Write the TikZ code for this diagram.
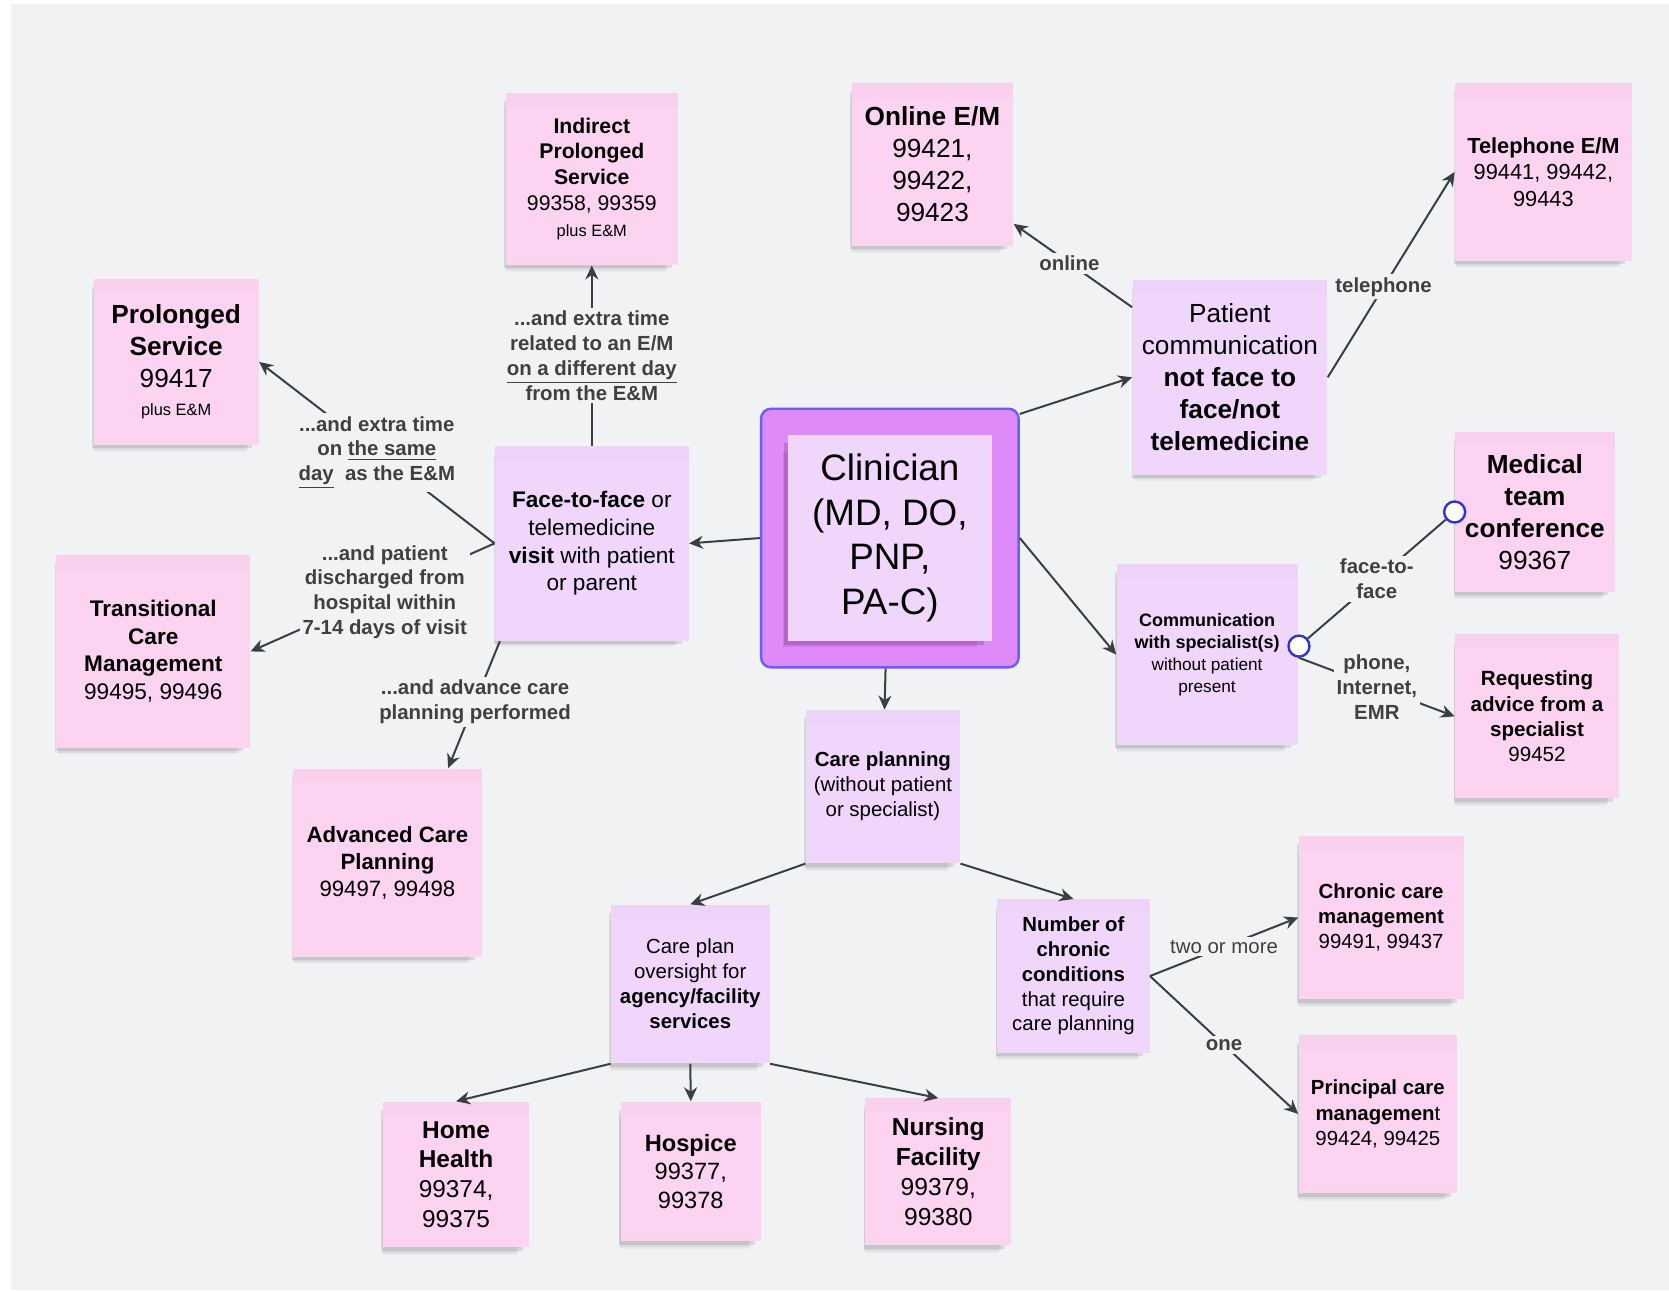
\documentclass[tikz,border=0pt]{standalone}
\usepackage{fontspec}
\setmainfont{Liberation Sans}
\usetikzlibrary{arrows.meta,calc,shadows}

\definecolor{canvas}{RGB}{241,242,244}
\definecolor{notepink}{RGB}{252,212,242}
\definecolor{notelilac}{RGB}{241,214,252}
\definecolor{framepink}{RGB}{222,138,248}
\definecolor{frameblue}{RGB}{104,96,238}
\definecolor{linkgray}{RGB}{58,63,69}
\definecolor{taggray}{RGB}{64,64,64}
\definecolor{handleblue}{RGB}{50,50,210}

\newcommand{\fs}[2]{\fontsize{#1}{#2}\selectfont}

\tikzstyle{note}=[rectangle,inner sep=0pt,align=center,text=black]
\tikzstyle{softshadow}=[
  drop shadow={shadow xshift=-2pt,shadow yshift=-3pt,shadow scale=0.97,fill=black!70,opacity=0.14},
  drop shadow={shadow xshift=-3pt,shadow yshift=-5.5pt,shadow scale=0.94,fill=black!70,opacity=0.09},
  drop shadow={shadow xshift=-3.5pt,shadow yshift=-7.5pt,shadow scale=0.92,fill=black!70,opacity=0.06},
  path picture={\fill[black,opacity=0.012] (path picture bounding box.north west)
    rectangle ([yshift=-7pt]path picture bounding box.north east);}]
\tikzstyle{pinknote}=[note,fill=notepink,softshadow]
\tikzstyle{lilacnote}=[note,fill=notelilac,softshadow]
\tikzstyle{link}=[draw=linkgray,line width=1pt,-{Stealth[length=7pt,width=6.5pt]}]
\tikzstyle{plainlink}=[draw=linkgray,line width=1pt]
\tikzstyle{tag}=[fill=canvas,text=taggray,font=\bfseries\fs{10.2}{12.4},align=center,inner sep=1.5pt]
\tikzstyle{handle}=[circle,draw=handleblue,fill=white,line width=1.2pt,minimum size=10.5pt,inner sep=0pt]

\begin{document}
\begin{tikzpicture}[x=0.5322pt,y=-0.5322pt,
  notesize/.style 2 args={minimum width=#1*0.5322pt,minimum height=#2*0.5322pt}]
  \useasboundingbox (0,0) rectangle (1568,1212);
  \fill[canvas] (10.3,3.8) rectangle (1568,1212);

  \node[rectangle,rounded corners=5pt,fill=framepink,draw=frameblue,line width=1.2pt,
    notesize={242}{243}] (clinicianframe) at (836,505.5) {};
  \node[note,fill=notelilac,notesize={192}{193},font=\fs{18.4}{22.4},
    drop shadow={shadow xshift=-3pt,shadow yshift=-3pt,shadow scale=0.98,fill=violet!60!black,opacity=0.18},
    drop shadow={shadow xshift=-5pt,shadow yshift=-6pt,shadow scale=0.95,fill=violet!60!black,opacity=0.12}]
    (clinician) at (836,505.5) {Clinician\\(MD, DO,\\PNP,\\PA-C)};

  \node[pinknote,notesize={162}{162},font=\fs{10.6}{12.9}] (indirect) at (556,168)
    {\textbf{Indirect}\\\textbf{Prolonged}\\\textbf{Service}\\99358, 99359\\{\fs{8.2}{11}plus E\&M}};
  \node[pinknote,notesize={152}{153},font=\fs{13.1}{16}] (online) at (876,154.5)
    {\textbf{Online E/M}\\99421,\\99422,\\99423};
  \node[pinknote,notesize={166}{167},font=\fs{10.9}{13.3}] (telephone) at (1450,161.5)
    {\textbf{Telephone E/M}\\99441, 99442,\\99443};
  \node[pinknote,notesize={155}{156},font=\fs{13.1}{16}] (prolonged) at (165.5,340)
    {\textbf{Prolonged}\\\textbf{Service}\\99417\\[-2pt]{\fs{8.2}{11}plus E\&M}};
  \node[lilacnote,notesize={183}{183},font=\fs{13.1}{16}] (ptcomm) at (1155.5,354.5)
    {Patient\\communication\\\textbf{not face to}\\\textbf{face/not}\\\textbf{telemedicine}};
  \node[lilacnote,notesize={182}{183},font=\fs{11.3}{13.8}] (face) at (556,510.5)
    {\textbf{Face-to-face} or\\telemedicine\\\textbf{visit} with patient\\or parent};
  \node[pinknote,notesize={150}{150},font=\fs{13.1}{16}] (medteam) at (1442,481)
    {\textbf{Medical}\\\textbf{team}\\\textbf{conference}\\99367};
  \node[lilacnote,notesize={170}{170},font=\fs{9}{11}] (commspec) at (1134,615)
    {\textbf{Communication}\\\textbf{with specialist(s)}\\{\fs{8.6}{11}without patient}\\{\fs{8.6}{11}present}};
  \node[pinknote,notesize={182}{182},font=\fs{11.3}{13.8}] (transitional) at (144,612)
    {\textbf{Transitional}\\\textbf{Care}\\\textbf{Management}\\99495, 99496};
  \node[pinknote,notesize={154}{154},font=\fs{10.3}{12.6}] (requesting) at (1444,673)
    {\textbf{Requesting}\\\textbf{advice from a}\\\textbf{specialist}\\99452};
  \node[lilacnote,notesize={145}{144},font=\fs{10.2}{12.5}] (careplanning) at (829.5,739)
    {\textbf{Care planning}\\(without patient\\or specialist)};
  \node[pinknote,notesize={178}{177},font=\fs{11.1}{13.6}] (acp) at (364,810.5)
    {\textbf{Advanced Care}\\\textbf{Planning}\\99497, 99498};
  \node[pinknote,notesize={155}{154},font=\fs{10.2}{12.5}] (chronic) at (1297.5,862)
    {\textbf{Chronic care}\\\textbf{management}\\99491, 99437};
  \node[lilacnote,notesize={149}{149},font=\fs{10.2}{12.5}] (oversight) at (648.5,924.5)
    {Care plan\\oversight for\\\textbf{agency/facility}\\\textbf{services}};
  \node[lilacnote,notesize={143}{144},font=\fs{10.2}{12.4}] (number) at (1008.5,917)
    {\textbf{Number of}\\\textbf{chronic}\\\textbf{conditions}\\that require\\care planning};
  \node[pinknote,notesize={149}{149},font=\fs{10.2}{12.5}] (principal) at (1294.5,1046.5)
    {\textbf{Principal care}\\\textbf{managemen}t\\99424, 99425};
  \node[pinknote,notesize={137}{137},font=\fs{12.2}{14.9}] (home) at (428.5,1103.5)
    {\textbf{Home}\\\textbf{Health}\\99374,\\99375};
  \node[pinknote,notesize={132}{131},font=\fs{11.8}{14.4}] (hospice) at (649,1100.5)
    {\textbf{Hospice}\\99377,\\99378};
  \node[pinknote,notesize={137}{138},font=\fs{12.3}{15}] (nursing) at (881.5,1101)
    {\textbf{Nursing}\\\textbf{Facility}\\99379,\\99380};

  \draw[link] (clinicianframe.west) -- (face.east);
  \draw[link] ($(clinicianframe.north east)+(0,6)$) -- (ptcomm.west);
  \draw[link] (clinicianframe.east) -- (commspec.west);
  \draw[link] ($(clinicianframe.south)+(-4,0)$) -- ($(careplanning.north)+(1.5,0)$);

  \draw[link] (face.north) -- node[tag]
    {...and extra time\\related to an E/M\\\underline{on a different day}\\from the E\&M} (indirect.south);
  \draw[link] (face.west) -- node[tag]
    {...and extra time\\on \underline{the same}\\\underline{day}\ \ as the E\&M} (prolonged.east);
  \draw[link] (face.west) -- node[tag,pos=0.45]
    {...and patient\\discharged from\\hospital within\\7-14 days of visit} (transitional.east);
  \draw[link] ($(face.south west)+(5,0)$) -- node[tag,pos=0.48]
    {...and advance care\\planning performed} ($(acp.north)+(57,0)$);

  \draw[link] ($(ptcomm.north west)+(0,26)$) -- node[tag,pos=0.53] {online} ($(online.south east)+(0,-21)$);
  \draw[link] (ptcomm.east) -- node[tag,pos=0.44] {telephone} (telephone.west);

  \node[handle] (handlea) at ($(commspec.east)+(1,-8)$) {};
  \node[handle] (handleb) at (medteam.west) {};
  \draw[plainlink] (handlea) -- node[tag] {face-to-\\face} (handleb);
  \draw[link] (handlea.south) -- node[tag] {phone,\\Internet,\\EMR} (requesting.west);

  \draw[link] (careplanning.south west) -- (oversight.north);
  \draw[link] (careplanning.south east) -- (number.north);
  \draw[link] (number.east) -- node[tag,font=\fs{10.2}{12.4}] {two or more} (chronic.west);
  \draw[link] (number.east) -- node[tag] {one} (principal.west);

  \draw[link] (oversight.south west) -- (home.north);
  \draw[link] (oversight.south) -- (hospice.north);
  \draw[link] (oversight.south east) -- (nursing.north);
\end{tikzpicture}
\end{document}
